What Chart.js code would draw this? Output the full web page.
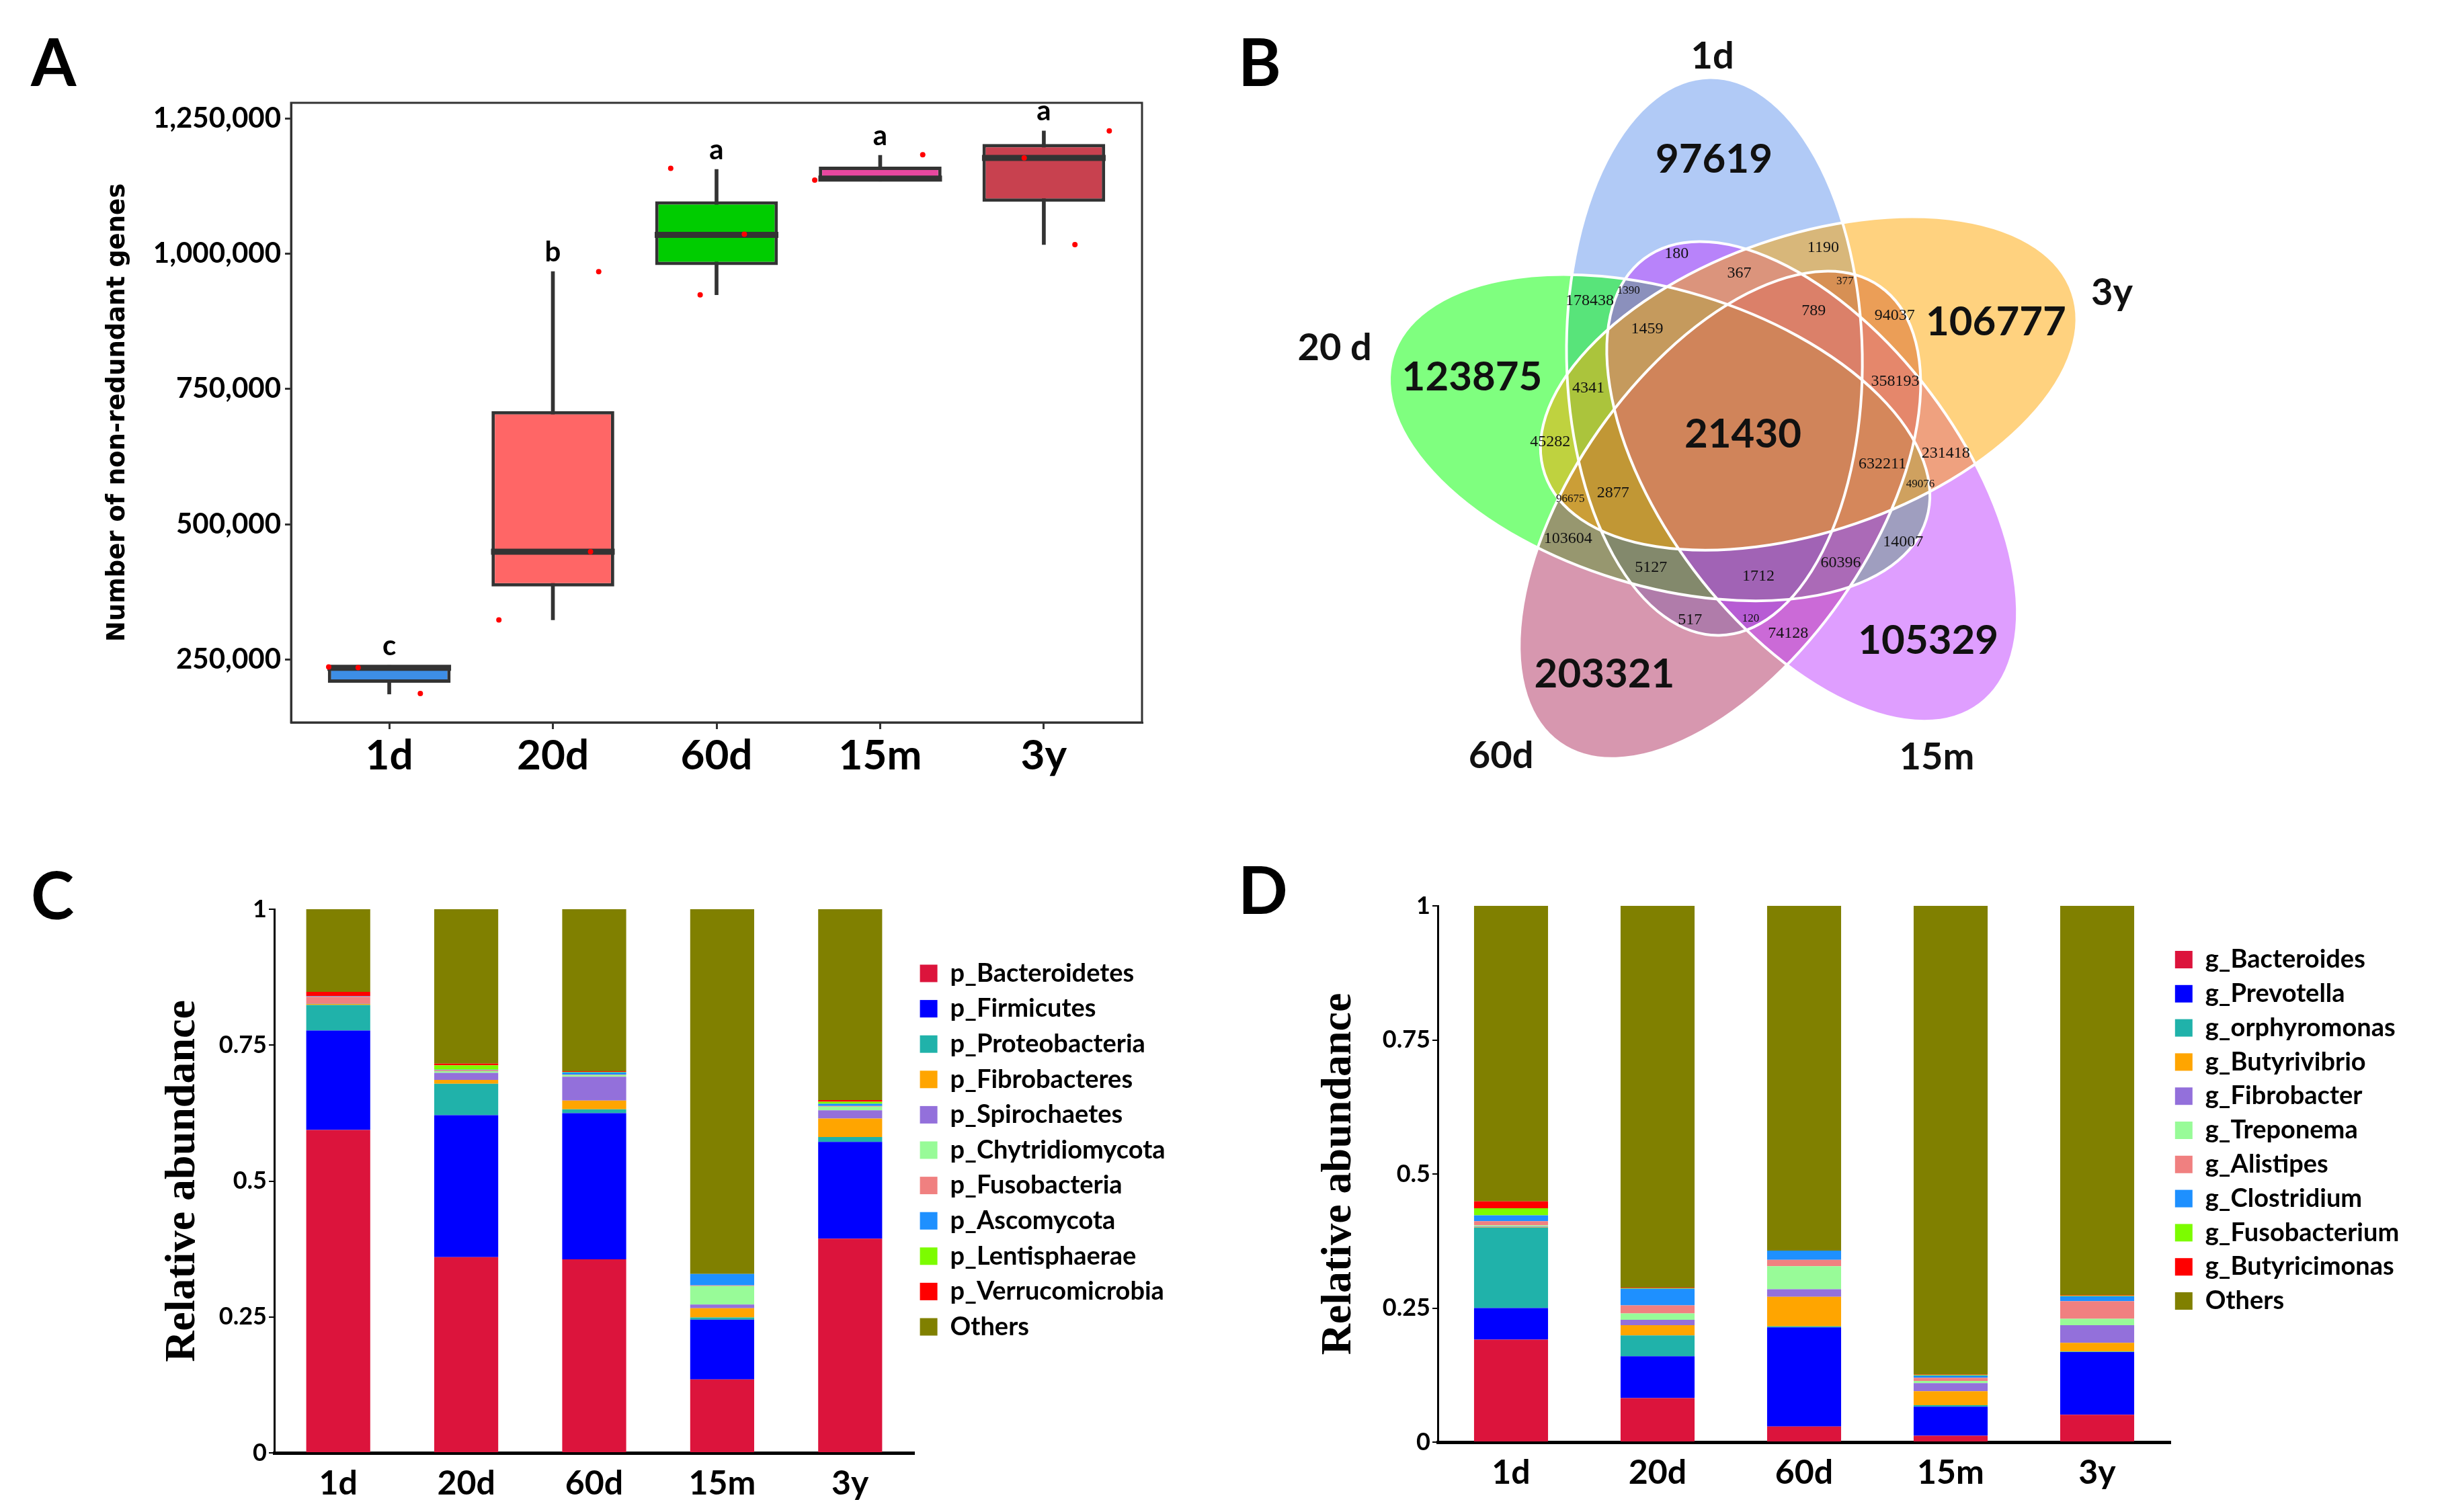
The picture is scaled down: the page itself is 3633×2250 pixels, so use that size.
<!DOCTYPE html>
<html>
<head>
<meta charset="utf-8">
<title>Non-redundant genes and community composition</title>
<script src="https://cdn.jsdelivr.net/npm/chart.js@4.4.1/dist/chart.umd.min.js"></script>
<style>
  html, body { margin: 0; padding: 0; background: #fff; }
  body { position: relative; width: 3633px; height: 2250px; overflow: hidden; }
  .panel { position: absolute; }
  .tag { position: absolute; font: bold 97px Lato, 'Open Sans', sans-serif; line-height: 1; color: #000; }
</style>
</head>
<body>
<div class="panel" style="left:0;top:0"><canvas id="boxChart" width="1800" height="1180"></canvas></div>
<div class="panel" style="left:1893px;top:0"><canvas id="vennChart" width="1400" height="1294"></canvas></div>
<div class="panel" style="left:0;top:1150px"><canvas id="phylumChart" width="1800" height="1100"></canvas></div>
<div class="panel" style="left:1800px;top:1150px"><canvas id="genusChart" width="1833" height="1100"></canvas></div>
<div class="tag" style="left:46px;top:42px">A</div>
<div class="tag" style="left:1842px;top:42px">B</div>
<div class="tag" style="left:46px;top:1282px">C</div>
<div class="tag" style="left:1842px;top:1274px">D</div>
<script>
Chart.defaults.font.family = "Lato, 'Open Sans', sans-serif";
Chart.defaults.color = '#000';

const ageGroups = ['1d', '20d', '60d', '15m', '3y'];

// --- A: non-redundant genes per group (box statistics) ---
const geneMin = [186000, 323000, 924000, 1134000, 1017000];
const geneQ1 = [207000, 385000, 979000, 1134000, 1096000];
const geneMedian = [234500, 449000, 1035000, 1139000, 1177000];
const geneQ3 = [239000, 709000, 1097000, 1161000, 1203000];
const geneMax = [239000, 967000, 1156000, 1182000, 1227000];
const geneLetters = ['c', 'b', 'a', 'a', 'a'];
const geneTicks = [250000, 500000, 750000, 1000000, 1250000];
// jittered samples
const samplePos = [0.63, 0.81, 1.19, 1.67, 2.23, 2.28, 2.72, 2.90, 3.17, 3.60, 4.26, 4.88, 5.19, 5.40];
const sampleGenes = [236000, 235000, 187000, 323000, 449000, 967000, 1158000, 924000, 1036000, 1136000, 1183000, 1177000, 1017000, 1227000];
const boxColors = ['#3D8EE6', '#FF6666', '#00CC00', '#E8479F', '#C8414F'];

// --- B: venn counts (sets in clockwise order from the top) ---
const vennSets = ['1d', '3y', '15m', '60d', '20 d'];
const vennColors = ['#6495ED', '#FFA500', '#BF3EFF', '#B03060', '#00FF00'];
const vennDrawOrder = [0, 4, 3, 2, 1];
const vennUnique = [97619, 106777, 105329, 203321, 123875];
const vennPairNext = [1190, 231418, 74128, 103604, 178438];
const vennPairSkip = [180, 94037, 14007, 517, 45282];
const vennTripleOuter = [1390, 377, 49076, 120, 96675];
const vennTripleInner = [367, 358193, 60396, 5127, 4341];
const vennQuad = [789, 632211, 1712, 2877, 1459];
const vennCore = 21430;

// --- C: phylum relative abundance ---
const phylumNames = ['p_Bacteroidetes', 'p_Firmicutes', 'p_Proteobacteria', 'p_Fibrobacteres', 'p_Spirochaetes',
  'p_Chytridiomycota', 'p_Fusobacteria', 'p_Ascomycota', 'p_Lentisphaerae', 'p_Verrucomicrobia', 'Others'];
const pBacteroidetes = [0.594, 0.360, 0.356, 0.135, 0.394];
const pFirmicutes = [0.183, 0.261, 0.269, 0.110, 0.178];
const pProteobacteria = [0.047, 0.058, 0.007, 0.004, 0.009];
const pFibrobacteres = [0.002, 0.007, 0.016, 0.017, 0.034];
const pSpirochaetes = [0.001, 0.013, 0.044, 0.007, 0.015];
const pChytridiomycota = [0.000, 0.003, 0.003, 0.034, 0.007];
const pFusobacteria = [0.012, 0.002, 0.001, 0.001, 0.001];
const pAscomycota = [0.001, 0.001, 0.004, 0.021, 0.004];
const pLentisphaerae = [0.000, 0.008, 0.001, 0.000, 0.004];
const pVerrucomicrobia = [0.008, 0.003, 0.001, 0.000, 0.003];
const pOthers = [0.152, 0.284, 0.298, 0.671, 0.351];

// --- D: genus relative abundance ---
const genusNames = ['g_Bacteroides', 'g_Prevotella', 'g_orphyromonas', 'g_Butyrivibrio', 'g_Fibrobacter',
  'g_Treponema', 'g_Alistipes', 'g_Clostridium', 'g_Fusobacterium', 'g_Butyricimonas', 'Others'];
const gBacteroides = [0.191, 0.082, 0.029, 0.012, 0.051];
const gPrevotella = [0.059, 0.078, 0.185, 0.054, 0.117];
const gOrphyromonas = [0.150, 0.039, 0.002, 0.003, 0.001];
const gButyrivibrio = [0.001, 0.019, 0.055, 0.026, 0.016];
const gFibrobacter = [0.001, 0.010, 0.014, 0.015, 0.033];
const gTreponema = [0.002, 0.012, 0.043, 0.004, 0.012];
const gAlistipes = [0.008, 0.015, 0.012, 0.006, 0.033];
const gClostridium = [0.011, 0.031, 0.017, 0.004, 0.009];
const gFusobacterium = [0.013, 0.001, 0.000, 0.001, 0.001];
const gButyricimonas = [0.013, 0.001, 0.000, 0.001, 0.001];
const gOthers = [0.551, 0.712, 0.643, 0.874, 0.726];

const taxonColors = ['#DC143C', '#0000FF', '#20B2AA', '#FFA500', '#9370DB',
  '#98FB98', '#F08080', '#1E90FF', '#7CFC00', '#FF0000', '#808000'];
const abundanceTicks = [0, 0.25, 0.5, 0.75, 1];

const INK = '#333333';
const common = { responsive: false, animation: false, devicePixelRatio: 1, events: [] };

// ---------- A: box plot ----------
const frame = {
  id: 'frame',
  afterDraw(chart) {
    const { ctx, chartArea: a } = chart;
    ctx.save();
    ctx.strokeStyle = INK;
    ctx.lineWidth = 3;
    ctx.strokeRect(a.left, a.top, a.right - a.left, a.bottom - a.top);
    ctx.restore();
  }
};

const letters = {
  id: 'letters',
  afterDatasetsDraw(chart) {
    const { ctx, scales: { x, y } } = chart;
    ctx.save();
    ctx.font = 'bold 42px Lato, sans-serif';
    ctx.fillStyle = '#000';
    ctx.textAlign = 'center';
    ctx.textBaseline = 'bottom';
    geneLetters.forEach((t, i) => {
      ctx.fillText(t, x.getPixelForValue(i + 1), y.getPixelForValue(geneMax[i]) - 8);
    });
    ctx.restore();
  }
};

new Chart(document.getElementById('boxChart'), {
  type: 'bar',
  data: {
    datasets: [
      {
        label: 'range',
        data: ageGroups.map((g, i) => ({ x: i + 1, y: [geneMin[i], geneMax[i]] })),
        backgroundColor: INK,
        barThickness: 5,
        grouped: false,
        order: 4
      },
      {
        label: 'quartiles',
        data: ageGroups.map((g, i) => ({ x: i + 1, y: [geneQ1[i], geneQ3[i]] })),
        backgroundColor: boxColors,
        borderColor: INK,
        borderWidth: 5,
        borderSkipped: false,
        barPercentage: 0.75,
        categoryPercentage: 1,
        grouped: false,
        order: 3
      },
      {
        type: 'scatter',
        label: 'median',
        data: ageGroups.map((g, i) => ({ x: i + 1, y: geneMedian[i] })),
        pointStyle: 'line',
        pointRadius: 92,
        pointBorderColor: INK,
        pointBorderWidth: 9,
        order: 2
      },
      {
        type: 'scatter',
        label: 'samples',
        data: samplePos.map((x, i) => ({ x: x, y: sampleGenes[i] })),
        pointRadius: 4,
        pointBackgroundColor: '#FF0000',
        pointBorderWidth: 0,
        order: 1
      }
    ]
  },
  options: {
    ...common,
    layout: { padding: { left: 153, top: 153, right: 78, bottom: 0 } },
    plugins: { legend: { display: false }, tooltip: { enabled: false } },
    scales: {
      x: {
        type: 'linear',
        min: 0.4,
        max: 5.6,
        offset: false,
        afterBuildTicks: s => { s.ticks = ageGroups.map((g, i) => ({ value: i + 1 })); },
        afterFit: s => { s.height = 105; },
        ticks: {
          callback: v => ageGroups[Math.round(v) - 1],
          font: { size: 62, weight: 'bold' },
          color: '#000',
          padding: 3,
          maxRotation: 0,
          autoSkip: false
        },
        grid: { display: true, drawOnChartArea: false, offset: false, tickLength: 10, color: INK, lineWidth: 3 },
        border: { display: true, color: INK, width: 3 }
      },
      y: {
        min: 133600,
        max: 1279000,
        afterBuildTicks: s => { s.ticks = geneTicks.map(v => ({ value: v })); },
        afterFit: s => { s.width = 280; },
        ticks: {
          callback: v => v.toLocaleString('en-US'),
          font: { size: 42, weight: 'bold' },
          color: '#000',
          padding: 6
        },
        grid: { drawOnChartArea: false, tickLength: 9, color: INK, lineWidth: 3 },
        border: { display: true, color: INK, width: 3 },
        title: {
          display: true,
          text: 'Number of non-redundant genes',
          font: { family: "'DejaVu Sans', sans-serif", size: 37, weight: 'bold' },
          color: '#000',
          padding: 0
        }
      }
    }
  },
  plugins: [frame, letters]
});

// ---------- B: five-set venn ----------
// ellipse k: centre on a ring at centreStart + 72k, long axis pointing at axisStart + 72k
const venn = { centreStart: -20, axisStart: -1, offset: 1.24, major: 4.15, minor: 2.2, labelStart: -5 };
const smallSerif = "24px 'Liberation Serif', 'Times New Roman', serif";
const vennRings = [
  { values: vennUnique, r: 4.12, turn: -1, font: 'bold 60px Lato, sans-serif' },
  { values: vennPairNext, r: 3.03, turn: 28.2, font: smallSerif },
  { values: vennPairSkip, r: 2.87, turn: -15.1, font: smallSerif },
  { values: vennTripleOuter, r: 2.74, turn: -33.4, font: "17px 'Liberation Serif', serif" },
  { values: vennTripleInner, r: 2.40, turn: 3.7, font: smallSerif },
  { values: vennQuad, r: 2.12, turn: 34.8, font: smallSerif }
];
const vennNameR = [5.65, 5.88, 5.6, 5.98, 6.21];
const vennNameTurn = [0.4, 2, 10, 6, -1];

const rad = d => d * Math.PI / 180;
const polar = (r, deg) => ({ x: r * Math.sin(rad(deg)), y: r * Math.cos(rad(deg)) });

const regionPoints = [];
vennRings.forEach(ring => {
  ring.values.forEach((v, k) => {
    const p = polar(ring.r, venn.labelStart + 72 * k + ring.turn);
    regionPoints.push({ x: p.x, y: p.y, text: String(v), font: ring.font });
  });
});
regionPoints.push({ x: 0, y: 0, text: String(vennCore), font: 'bold 60px Lato, sans-serif' });

const namePoints = vennSets.map((n, k) => {
  const p = polar(vennNameR[k], venn.labelStart + 72 * k + vennNameTurn[k]);
  return { x: p.x, y: p.y, text: n, font: 'bold 56px Lato, sans-serif' };
});

const vennShapes = {
  id: 'vennShapes',
  beforeDatasetsDraw(chart) {
    const { ctx, scales: { x, y } } = chart;
    const unit = x.getPixelForValue(1) - x.getPixelForValue(0);
    const shapes = vennDrawOrder.map(k => {
      const c = polar(venn.offset, venn.centreStart + 72 * k);
      return {
        k,
        cx: x.getPixelForValue(c.x),
        cy: y.getPixelForValue(c.y),
        rot: rad(venn.axisStart + 72 * k - 90)
      };
    });
    ctx.save();
    shapes.forEach(s => {
      ctx.beginPath();
      ctx.ellipse(s.cx, s.cy, venn.major * unit, venn.minor * unit, s.rot, 0, Math.PI * 2);
      ctx.globalAlpha = 0.5;
      ctx.fillStyle = vennColors[s.k];
      ctx.fill();
    });
    ctx.globalAlpha = 1;
    ctx.strokeStyle = '#fff';
    ctx.lineWidth = 4;
    shapes.forEach(s => {
      ctx.beginPath();
      ctx.ellipse(s.cx, s.cy, venn.major * unit, venn.minor * unit, s.rot, 0, Math.PI * 2);
      ctx.stroke();
    });
    ctx.restore();
  },
  afterDatasetsDraw(chart) {
    const { ctx } = chart;
    ctx.save();
    ctx.fillStyle = '#111';
    ctx.textAlign = 'center';
    ctx.textBaseline = 'middle';
    chart.data.datasets.forEach((ds, di) => {
      chart.getDatasetMeta(di).data.forEach((pt, i) => {
        ctx.font = ds.data[i].font;
        ctx.fillText(ds.data[i].text, pt.x, pt.y);
      });
    });
    ctx.restore();
  }
};

new Chart(document.getElementById('vennChart'), {
  type: 'scatter',
  data: {
    datasets: [
      { label: 'regions', data: regionPoints, pointRadius: 0 },
      { label: 'sets', data: namePoints, pointRadius: 0 }
    ]
  },
  options: {
    ...common,
    layout: { padding: 0 },
    plugins: { legend: { display: false }, tooltip: { enabled: false } },
    scales: {
      x: { display: false, min: -7, max: 7 },
      y: { display: false, min: -6.47, max: 6.47 }
    }
  },
  plugins: [vennShapes]
});

// ---------- C and D: stacked composition ----------
// fixed legend width so the plot area ends where the original does; nudge the legend block
function legendPlacement(w, dx, dy) {
  return {
    id: 'legendPlacement',
    beforeUpdate(chart) {
      const lg = chart.legend;
      if (lg && !lg._fixedWidth) {
        const fit = lg.fit;
        lg.fit = function () { fit.call(this); this.width = w; };
        lg._fixedWidth = true;
      }
    },
    afterLayout(chart) {
      const lg = chart.legend;
      lg.left += dx; lg.right += dx;
      lg.top += dy; lg.bottom += dy;
    }
  };
}

function stackedChart(id, names, series, opt) {
  return new Chart(document.getElementById(id), {
    type: 'bar',
    data: {
      labels: ageGroups,
      datasets: names.map((n, i) => ({
        label: n,
        data: series[i],
        backgroundColor: taxonColors[i],
        borderWidth: 0,
        barPercentage: opt.bar,
        categoryPercentage: 1
      }))
    },
    options: {
      ...common,
      layout: { padding: { left: opt.padLeft, top: opt.padTop, right: 0, bottom: 0 } },
      plugins: {
        legend: {
          position: 'right',
          align: 'center',
          fullSize: false,
          labels: {
            boxWidth: 26,
            boxHeight: 26,
            padding: opt.legendGap,
            font: { size: 38, weight: 'bold' },
            color: '#000'
          }
        },
        tooltip: { enabled: false }
      },
      scales: {
        x: {
          stacked: true,
          afterFit: s => { s.height = opt.xHeight; },
          grid: { display: false },
          border: { display: true, color: '#000', width: 5 },
          ticks: { font: { size: 50, weight: 'bold' }, color: '#000', padding: 8 }
        },
        y: {
          stacked: true,
          min: 0,
          max: 1,
          afterBuildTicks: s => { s.ticks = abundanceTicks.map(v => ({ value: v })); },
          afterFit: s => { s.width = opt.yWidth; },
          ticks: { callback: v => String(v), font: { size: 36, weight: 'bold' }, color: '#000', padding: 3 },
          grid: { drawOnChartArea: false, tickLength: 8, color: '#000', lineWidth: 2 },
          border: { display: true, color: '#000', width: 3 },
          title: {
            display: true,
            text: 'Relative abundance',
            font: { family: "'Liberation Serif', 'Times New Roman', serif", size: 64, weight: 'bold' },
            color: '#000',
            padding: 0
          }
        }
      }
    },
    plugins: [legendPlacement(opt.legendWidth, opt.legendDx, opt.legendDy)]
  });
}

stackedChart('phylumChart', phylumNames,
  [pBacteroidetes, pFirmicutes, pProteobacteria, pFibrobacteres, pSpirochaetes, pChytridiomycota,
   pFusobacteria, pAscomycota, pLentisphaerae, pVerrucomicrobia, pOthers],
  { bar: 0.5, padLeft: 234, padTop: 203, yWidth: 174, xHeight: 88, legendWidth: 440,
    legendGap: 14.6, legendDx: -6, legendDy: -46 });

stackedChart('genusChart', genusNames,
  [gBacteroides, gPrevotella, gOrphyromonas, gButyrivibrio, gFibrobacter, gTreponema,
   gAlistipes, gClostridium, gFusobacterium, gButyricimonas, gOthers],
  { bar: 0.505, padLeft: 154, padTop: 198, yWidth: 185, xHeight: 104, legendWidth: 404,
    legendGap: 12.8, legendDx: -6, legendDy: -65 });
</script>
</body>
</html>
